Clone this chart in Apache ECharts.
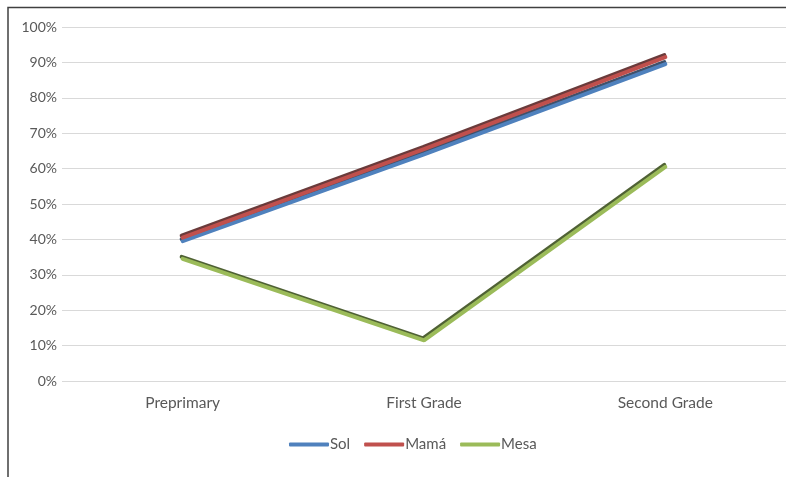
<!DOCTYPE html>
<html>
<head>
<meta charset="utf-8">
<script src="https://cdn.jsdelivr.net/npm/echarts@6/dist/echarts.min.js"></script>
<style>
  html, body { margin: 0; padding: 0; background: #fff; }
  #chart { width: 786px; height: 477px; }
</style>
</head>
<body>
<div id="chart"></div>
<script>
// Grade levels along the x axis
const categories = ['Preprimary', 'First Grade', 'Second Grade'];
// Share of children (%) per word
const solValues = [39.5, 64, 89.5];
const mamaValues = [40.5, 65.5, 91.5];
const mesaValues = [34.5, 11.5, 60.5];
// Y axis ticks (%)
const yMin = 0, yMax = 100, yStep = 10;

const FONT = 'Lato';
const TEXT = '#595959';

function lineSeries(name, data, color, shade) {
  return {
    name: name,
    type: 'line',
    data: data,
    symbol: 'none',
    lineStyle: {
      width: 4,
      color: color,
      cap: 'round',
      shadowColor: shade,
      shadowBlur: 0,
      shadowOffsetX: -1,
      shadowOffsetY: -2
    },
    itemStyle: { color: color },
    emphasis: { disabled: true }
  };
}

const chart = echarts.init(document.getElementById('chart'), null, { renderer: 'canvas' });
chart.setOption({
  animation: false,
  backgroundColor: '#ffffff',
  textStyle: { fontFamily: FONT },
  grid: { left: 62, right: -3, top: 27, bottom: 96, containLabel: false },
  legend: {
    data: ['Sol', 'Mamá', 'Mesa'],
    left: 284,
    top: 432,
    icon: 'roundRect',
    itemWidth: 40,
    itemHeight: 4,
    itemGap: 14,
    textStyle: { color: TEXT, fontSize: 15, fontFamily: FONT, padding: [0, 0, 0, -4] }
  },
  xAxis: {
    type: 'category',
    data: categories,
    boundaryGap: true,
    axisLine: { show: false },
    axisTick: { show: false },
    axisLabel: { color: TEXT, fontSize: 15.5, fontFamily: FONT, margin: 14 }
  },
  yAxis: {
    type: 'value',
    min: yMin,
    max: yMax,
    interval: yStep,
    axisLine: { show: false },
    axisTick: { show: false },
    axisLabel: { color: TEXT, fontSize: 14, fontFamily: FONT, margin: 5, formatter: '{value}%' },
    splitLine: { lineStyle: { color: '#d9d9d9', width: 1 } }
  },
  series: [
    lineSeries('Sol', solValues, '#4f81bd', 'rgba(30,50,80,0.85)'),
    lineSeries('Mamá', mamaValues, '#c0504d', 'rgba(80,25,25,0.85)'),
    lineSeries('Mesa', mesaValues, '#9bbb59', 'rgba(60,80,30,0.9)')
  ],
  graphic: [{
    type: 'polyline',
    silent: true,
    shape: { points: [[8, 477], [8, 7.5], [786, 7.5]] },
    style: { stroke: '#404040', lineWidth: 1.5, fill: null }
  }]
});
</script>
</body>
</html>
